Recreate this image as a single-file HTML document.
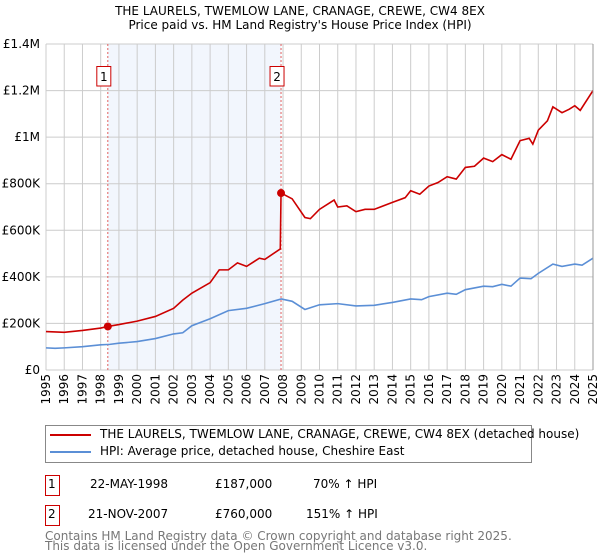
<!DOCTYPE html>
<html><head><meta charset="utf-8"><style>
body{margin:0;background:#fff;font-family:"DejaVu Sans","Liberation Sans",sans-serif;}
#c{position:relative;width:600px;height:560px;overflow:hidden}
.t{position:absolute;font-size:12px;color:#000;white-space:nowrap}
</style></head><body><div id="c">
<svg id="s" width="600" height="560" style="position:absolute;left:0;top:0"></svg>
</div>
<script>
const years=[1995,2025];
const yTicks=[0,200000,400000,600000,800000,1000000,1200000,1400000];
const yTickLabels=["£0","£200K","£400K","£600K","£800K","£1M","£1.2M","£1.4M"];
const hpiT=[1995,1995.5,1996,1997,1998,1998.5,1999,2000,2001,2002,2002.5,2003,2004,2005,2006,2007,2007.9,2008.5,2009.2,2010,2011,2012,2013,2014,2015,2015.6,2016,2017,2017.5,2018,2019,2019.5,2020,2020.5,2021,2021.6,2022,2022.8,2023.3,2024,2024.4,2025];
const hpiV=[95000,93000,95000,100000,108000,110000,115000,122000,135000,155000,160000,190000,220000,255000,265000,285000,305000,295000,260000,280000,285000,275000,278000,290000,305000,302000,315000,330000,325000,345000,360000,358000,368000,360000,395000,392000,415000,455000,445000,455000,450000,480000];
const redT=[1995,1996,1997,1998,1998.39,1999,2000,2001,2002,2002.5,2003,2004,2004.5,2005,2005.5,2006,2006.7,2007,2007.85,2007.89,2008.5,2009.2,2009.5,2010,2010.8,2011,2011.5,2012,2012.5,2013,2014,2014.7,2015,2015.5,2016,2016.5,2017,2017.5,2018,2018.5,2019,2019.5,2020,2020.5,2021,2021.5,2021.7,2022,2022.5,2022.8,2023.3,2023.7,2024,2024.3,2025];
const redV=[165000,162000,170000,180000,187000,195000,210000,230000,265000,300000,330000,375000,430000,430000,460000,445000,480000,475000,520000,760000,735000,655000,650000,690000,730000,700000,705000,680000,690000,690000,720000,740000,770000,755000,790000,805000,830000,820000,870000,875000,910000,895000,925000,905000,985000,995000,970000,1030000,1070000,1130000,1105000,1120000,1135000,1115000,1200000];
const sales=[[1998.39,187000,"1"],[2007.89,760000,"2"]];
const L=46,R=593,T=44,B=370;
const x=v=>L+(v-years[0])/(years[1]-years[0])*(R-L);
const y=v=>B-v/1400000*(B-T);
const s=document.getElementById('s');const NS="http://www.w3.org/2000/svg";
function el(t,a,p){const e=document.createElementNS(NS,t);for(const k in a)e.setAttribute(k,a[k]);(p||s).appendChild(e);return e;}
let r=el('rect',{x:x(sales[0][0]),y:T,width:x(sales[1][0])-x(sales[0][0]),height:B-T,fill:'#f2f6fd'});


for(let yr=years[0];yr<=years[1];yr++){let g=el('line',{x1:x(yr),x2:x(yr),y1:T,y2:B,stroke:'#ccc','stroke-width':1});


let t=el('text',{x:0,y:0,transform:`translate(${x(yr)+4},${B+4}) rotate(-90)`,'text-anchor':'end','font-size':12,'font-family':'DejaVu Sans,Liberation Sans,sans-serif'});t.textContent=yr;

}
yTicks.forEach((v,i)=>{let g=el('line',{x1:L,x2:R,y1:y(v),y2:y(v),stroke:'#ccc','stroke-width':1});


let t=el('text',{x:L-6,y:y(v)+4,'text-anchor':'end','font-size':12,'font-family':'DejaVu Sans,Liberation Sans,sans-serif'});t.textContent=yTickLabels[i];

});
sales.forEach(sl=>{let d=el('line',{x1:x(sl[0]),x2:x(sl[0]),y1:T,y2:B,stroke:'#e06060','stroke-dasharray':'2,2','stroke-width':1});


let b=el('rect',{x:x(sl[0])-11,y:66.5,width:14,height:19.5,fill:'#fff',stroke:'#c00'});


let t=el('text',{x:x(sl[0])-4,y:81,'text-anchor':'middle','font-size':12,'font-family':'DejaVu Sans,sans-serif'});t.textContent=sl[2];

});
function line(ts,vs,c,n){let p=el('polyline',{points:ts.map((t,i)=>x(t)+','+y(vs[i])).join(' '),fill:'none',stroke:c,'stroke-width':1.6});

}
line(hpiT,hpiV,'#5b8fd6','hpi-line');
line(redT,redV,'#cc0000','price-line');
sales.forEach(sl=>{let c=el('circle',{cx:x(sl[0]),cy:y(sl[1]),r:4,fill:'#cc0000'});

});
let ax=el('line',{x1:R,x2:R,y1:T,y2:B,stroke:'#999'});


</script>
<div class="t" style="left:0;width:600px;text-align:center;top:4px;font-size:12px">THE LAURELS, TWEMLOW LANE, CRANAGE, CREWE, CW4 8EX<br>Price paid vs. HM Land Registry's House Price Index (HPI)</div>
<div style="position:absolute;left:45px;top:425px;width:485px;height:36px;border:1px solid #888">
<div style="position:absolute;left:4px;top:8px;width:41px;height:2px;background:#cc0000"></div>
<div class="t" style="left:54px;top:1px;font-size:12px">THE LAURELS, TWEMLOW LANE, CRANAGE, CREWE, CW4 8EX (detached house)</div>
<div style="position:absolute;left:4px;top:25px;width:41px;height:2px;background:#5b8fd6"></div>
<div class="t" style="left:54px;top:18px;font-size:12px">HPI: Average price, detached house, Cheshire East</div>
</div>
<div style="position:absolute;left:45px;top:475px;width:13px;height:19px;border:1px solid #c00"></div>
<div class="t" style="left:48px;top:477px">1</div>
<div class="t" style="left:90px;top:477px">22-MAY-1998</div>
<div class="t" style="left:215px;top:477px">£187,000</div>
<div class="t" style="left:313px;top:477px">70% ↑ HPI</div>
<div style="position:absolute;left:45px;top:505px;width:13px;height:19px;border:1px solid #c00"></div>
<div class="t" style="left:48px;top:507px">2</div>
<div class="t" style="left:88px;top:507px">21-NOV-2007</div>
<div class="t" style="left:215px;top:507px">£760,000</div>
<div class="t" style="left:306px;top:507px">151% ↑ HPI</div>
<div class="t" style="left:45px;top:531px;font-size:12px;color:#777;line-height:10px">Contains HM Land Registry data © Crown copyright and database right 2025.<br>This data is licensed under the Open Government Licence v3.0.</div>
</body></html>
